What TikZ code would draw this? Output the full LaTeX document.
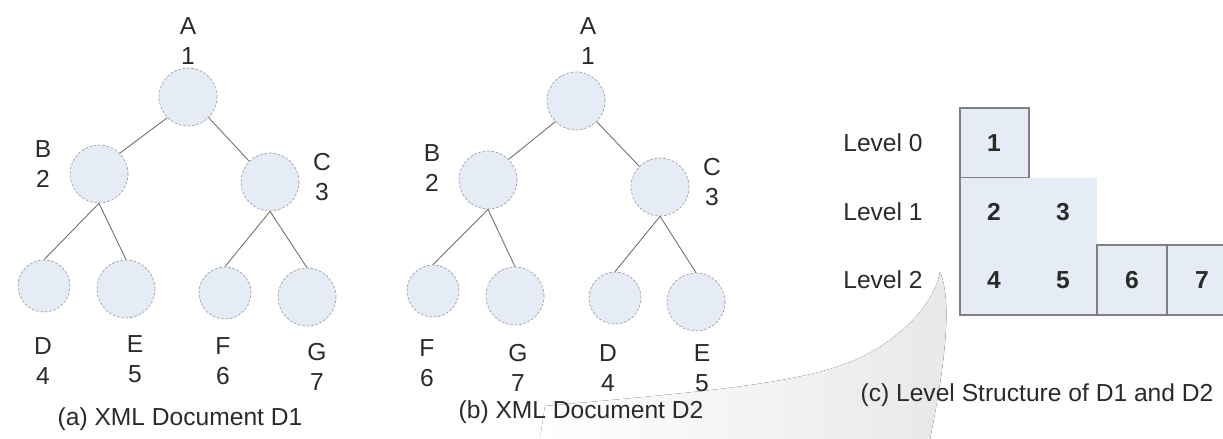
\documentclass[tikz,border=0pt]{standalone}
\usepackage{fontspec}
\setmainfont{Liberation Sans}
\usepackage{tikz}
\usetikzlibrary{arrows,positioning}
\definecolor{nodeblue}{HTML}{E6ECF6}
\definecolor{rimgray}{HTML}{A0A0A0}
\definecolor{linegray}{HTML}{707070}
\definecolor{inkgray}{HTML}{2A2A2A}
\tikzset{
    %Define style for tree nodes
    bignode/.style={
           circle,
           draw=rimgray, dash pattern=on 1.5pt off 1pt,
           fill=nodeblue,
           minimum size=1.16cm,
           inner sep=0pt},
    smallnode/.style={
           bignode,
           minimum size=1.04cm},
    %Define style for texts
    tag/.style={
           align=center,
           text=inkgray,
           inner sep=0pt,
           font=\fontsize{14}{17}\selectfont},
    num/.style={
           text=inkgray,
           inner sep=0pt,
           font=\fontsize{14}{17}\selectfont\bfseries},
    %Define style for level cells
    cell/.style={
           draw=gray, fill=nodeblue, line width=0.6pt},
    % Define edge style
    branch/.style={
           every edge/.style={draw=linegray, line width=0.5pt}}
}
\begin{document}
\begin{tikzpicture}[x=0.02cm,y=-0.02cm]
\useasboundingbox (0,0) rectangle (1223,439);
% watermark
\fill[left color=white, right color=black!9] (540,439) -- (545,406)
    .. controls (700,392) and (800,384) .. (855,360)
    .. controls (905,338) and (935,300) .. (940,272)
    .. controls (952,300) and (946,360) .. (930,439) -- cycle;
 %tree D1
\node[bignode](a1) at (188,97){};
\node[bignode](a2) at (99,174){};
\node[bignode](a3) at (270,182){};
\node[smallnode](a4) at (44,286){};
\node[bignode](a5) at (126,289){};
\node[smallnode](a6) at (225,293){};
\node[bignode](a7) at (307,297){};
\path[branch]
    (a1.south west) edge (a2.north east)
    (a1.south east) edge (a3.north west)
    (a2.south) edge (a4.north)
    (a2.south) edge (a5.north)
    (a3.south) edge (a6.north)
    (a3.south) edge (a7.north);
\node[tag](la1) at (188,41){A\\1};
\node[tag](la2) at (43,164){B\\2};
\node[tag](la3) at (322,177){C\\3};
\node[tag](la4) at (43,361){D\\4};
\node[tag](la5) at (135,359){E\\5};
\node[tag](la6) at (223,361){F\\6};
\node[tag](la7) at (317,367){G\\7};
\node[tag](capa) at (180,419){(a) XML Document D1};
 %tree D2
\node[bignode](b1) at (576,101){};
\node[bignode](b2) at (488,180){};
\node[bignode](b3) at (660,187){};
\node[smallnode](b6) at (433,291){};
\node[bignode](b7) at (515,296){};
\node[smallnode](b4) at (615,298){};
\node[bignode](b5) at (696,302){};
\path[branch]
    (b1.south west) edge (b2.north east)
    (b1.south east) edge (b3.north west)
    (b2.south) edge (b6.north)
    (b2.south) edge (b7.north)
    (b3.south) edge (b4.north)
    (b3.south) edge (b5.north);
\node[tag](lb1) at (588,41){A\\1};
\node[tag](lb2) at (432,168){B\\2};
\node[tag](lb3) at (712,182){C\\3};
\node[tag](lb6) at (427,363){F\\6};
\node[tag](lb7) at (518,368){G\\7};
\node[tag](lb4) at (608,368){D\\4};
\node[tag](lb5) at (702,368){E\\5};
\node[tag](capb) at (581,412){(b) XML Document D2};
 %level structure
\draw[cell] (960,108) rectangle (1029,178);
\fill[nodeblue] (960,178) rectangle (1097,315);
\draw[gray, line width=0.6pt] (960,178) -- (960,315) -- (1097,315);
\draw[cell] (1097,245) rectangle (1167,315);
\draw[cell] (1167,245) rectangle (1237,315);
\node[tag, anchor=east](lv0) at (923,143){Level 0};
\node[tag, anchor=east](lv1) at (923,212){Level 1};
\node[tag, anchor=east](lv2) at (923,280){Level 2};
\node[num](c1) at (994,143){1};
\node[num](c2) at (994,212){2};
\node[num](c3) at (1063,212){3};
\node[num](c4) at (994,280){4};
\node[num](c5) at (1063,280){5};
\node[num](c6) at (1132,280){6};
\node[num](c7) at (1202,280){7};
\node[tag](capc) at (1037,395){(c) Level Structure of D1 and D2};
\end{tikzpicture}
\end{document}
